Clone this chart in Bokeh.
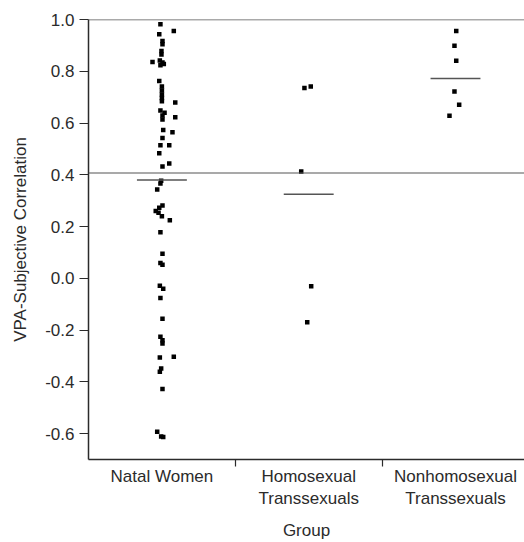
from bokeh.plotting import figure
from bokeh.models import Range1d, FixedTicker, PrintfTickFormatter, Span
from bokeh.embed import file_html
from bokeh.resources import INLINE

# ---- data ----
groups = ["Natal Women", "Homosexual\nTranssexuals", "Nonhomosexual\nTranssexuals"]

natal_women = [0.982, 0.956, 0.943, 0.917, 0.904, 0.878, 0.865, 0.836, 0.842, 0.834,
               0.828, 0.823, 0.762, 0.741, 0.726, 0.710, 0.697, 0.684, 0.679, 0.648,
               0.640, 0.629, 0.622, 0.614, 0.573, 0.564, 0.542, 0.514, 0.514, 0.483,
               0.444, 0.432, 0.377, 0.366, 0.343, 0.281, 0.273, 0.260, 0.253, 0.240,
               0.224, 0.178, 0.095, 0.059, 0.052, -0.029, -0.040, -0.076, -0.156, -0.226,
               -0.239, -0.252, -0.306, -0.303, -0.348, -0.361, -0.428, -0.593, -0.611, -0.613]
natal_jitter = [-0.010, 0.081, -0.018, 0.004, 0.004, -0.003, -0.003, -0.064, -0.014, 0.004,
                0.013, -0.010, -0.018, 0.000, 0.000, 0.000, 0.000, 0.000, 0.091, -0.010,
                0.018, 0.004, 0.091, 0.004, 0.009, 0.072, 0.004, -0.010, 0.050, -0.018,
                0.050, 0.004, -0.005, -0.010, -0.032, 0.004, -0.018, -0.042, -0.023, 0.000,
                0.054, -0.010, 0.004, -0.010, 0.004, -0.014, 0.009, -0.010, 0.004, -0.010,
                0.004, 0.004, -0.014, 0.081, -0.005, -0.014, 0.004, -0.032, -0.005, 0.009]

homosexual_ts = [0.735, 0.741, 0.413, -0.031, -0.170]
homosexual_jitter = [-0.029, 0.014, -0.051, 0.017, -0.010]

nonhomosexual_ts = [0.956, 0.899, 0.841, 0.722, 0.671, 0.628]
nonhomosexual_jitter = [0.005, -0.007, 0.005, -0.007, 0.025, -0.041]

group_means = [0.380, 0.325, 0.772]
reference_r = 0.407

yticks = [-0.6, -0.4, -0.2, 0.0, 0.2, 0.4, 0.6, 0.8, 1.0]

# ---- figure ----
FONT = "Liberation Sans"
AX = "#2b2b2b"
LN = "#555555"

centers = [0.5, 1.5, 2.5]

p = figure(frame_width=436, frame_height=440,
           x_range=Range1d(0, 2.97), y_range=Range1d(-0.7, 1.0),
           output_backend="svg", toolbar_location=None,
           min_border_left=88, min_border_top=19, min_border_right=0, min_border_bottom=4)
p.outline_line_color = None
p.xgrid.visible = False
p.ygrid.visible = False
p.background_fill_color = "white"

# top line at 1.0 and reference line
p.add_layout(Span(location=1.0, dimension="width", line_color=LN, line_width=1.5))
p.add_layout(Span(location=reference_r, dimension="width", line_color=LN, line_width=1.2))

# points
all_vals = [natal_women, homosexual_ts, nonhomosexual_ts]
all_jit = [natal_jitter, homosexual_jitter, nonhomosexual_jitter]
for c, vals, jit in zip(centers, all_vals, all_jit):
    xs = [c + j for j in jit]
    p.scatter(xs, vals, marker="square", size=4.5, color="black", line_width=0)

# mean lines
p.segment(x0=[c - 0.17 for c in centers], x1=[c + 0.17 for c in centers],
          y0=group_means, y1=group_means, line_color=LN, line_width=1.5)

# y axis
ya = p.yaxis[0]
ya.ticker = FixedTicker(ticks=yticks, minor_ticks=[])
ya.formatter = PrintfTickFormatter(format="%.1f")
ya.axis_label = "VPA-Subjective Correlation"
ya.axis_label_text_font = FONT
ya.axis_label_text_font_size = "17px"
ya.axis_label_text_font_style = "normal"
ya.axis_label_text_color = AX
ya.axis_label_standoff = 12
ya.major_label_text_font = FONT
ya.major_label_text_font_size = "17px"
ya.major_label_text_color = AX
ya.major_label_standoff = 5
ya.major_tick_in = 0
ya.major_tick_out = 9
ya.major_tick_line_color = AX
ya.axis_line_color = AX
ya.axis_line_width = 1.5
ya.major_tick_line_width = 1.2

# x axis
xa = p.xaxis[0]
xa.ticker = FixedTicker(ticks=centers, minor_ticks=[1.0, 2.0])
xa.major_label_overrides = {c: g for c, g in zip(centers, groups)}
xa.axis_label = "Group"
xa.axis_label_text_font = FONT
xa.axis_label_text_font_size = "17px"
xa.axis_label_text_font_style = "normal"
xa.axis_label_text_color = AX
xa.axis_label_standoff = 10
xa.major_label_text_font = FONT
xa.major_label_text_font_size = "17px"
xa.major_label_text_color = AX
xa.major_label_standoff = 0
xa.major_tick_line_color = None
xa.major_tick_in = 0
xa.major_tick_out = 0
xa.minor_tick_in = 0
xa.minor_tick_out = 7
xa.minor_tick_line_color = AX
xa.minor_tick_line_width = 1.2
xa.axis_line_color = AX
xa.axis_line_width = 1.5

open("out.html", "w").write(file_html(p, INLINE))
